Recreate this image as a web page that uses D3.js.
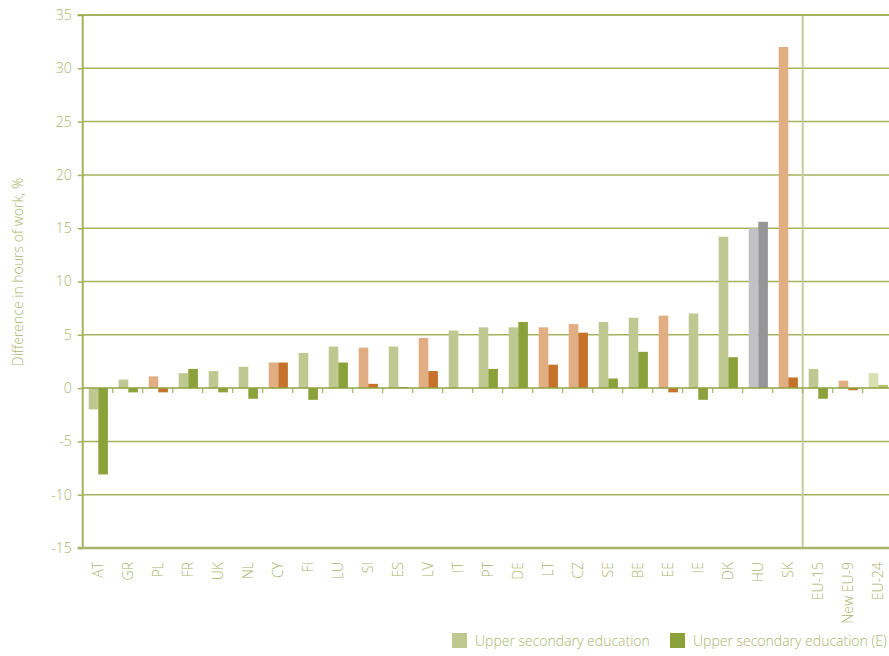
<!DOCTYPE html>
<html>
<head>
<meta charset="utf-8">
<script src="https://cdn.jsdelivr.net/npm/d3@7"></script>
<style>
  html, body { margin: 0; padding: 0; background: #fff; }
  svg { display: block; font-family: "Open Sans", "DejaVu Sans", sans-serif; }
</style>
</head>
<body>
<svg id="chart" width="889" height="656"></svg>
<script>
// ---- data ----
const categories = ["AT","GR","PL","FR","UK","NL","CY","FI","LU","SI","ES","LV","IT","PT","DE","LT","CZ","SE","BE","EE","IE","DK","HU","SK","EU-15","New EU-9","EU-24"];
const groups = ["g","g","o","g","g","g","o","g","g","o","g","o","g","g","g","o","o","g","g","o","g","g","h","o","g","o","e"];
const upperSecondary  = [-2.0,0.8,1.1,1.4,1.6,2.0,2.4,3.3,3.9,3.8,3.9,4.7,5.4,5.7,5.7,5.7,6.0,6.2,6.6,6.8,7.0,14.2,15.0,32.0,1.8,0.7,1.4];
const upperSecondaryE = [-8.1,-0.4,-0.4,1.8,-0.4,-1.0,2.4,-1.1,2.4,0.4,0.1,1.6,0.0,1.8,6.2,2.2,5.2,0.9,3.4,-0.4,-1.1,2.9,15.6,1.0,-1.0,-0.2,0.3];
const yTicks = [-15,-10,-5,0,5,10,15,20,25,30,35];
const seriesNames = ["Upper secondary education","Upper secondary education (E)"];

// ---- styles ----
const palette = {
  g: ["#c0c891", "#8ba13a"],
  o: ["#e0ae82", "#c5732b"],
  h: ["#c2c2c4", "#969698"],
  e: ["#d8dfb1", "#b6c26a"]
};
const textColor = "#a9b66c";
const gridColor = "#a3b25c";

const svg = d3.select("#chart");
const pLeft = 82.7, pRight = 892.7, pTop = 15, pBottom = 548;

const x = d3.scaleBand().domain(categories).range([pLeft, pRight]).padding(0);
const y = d3.scaleLinear().domain([-15, 35]).range([pBottom, pTop]);
const xs = d3.scaleBand().domain([0, 1]).range([x.bandwidth() * 0.2, x.bandwidth() * 0.84]);

// gridlines
svg.append("g").selectAll("line").data(yTicks.filter(t => t !== -15 && t !== 0)).join("line")
  .attr("x1", pLeft).attr("x2", pRight)
  .attr("y1", d => y(d)).attr("y2", d => y(d))
  .attr("stroke", gridColor).attr("stroke-width", 1.5);

// y axis
const yAxis = d3.axisLeft(y).tickValues(yTicks).tickSize(5).tickPadding(6).tickFormat(d3.format("d"));
const yg = svg.append("g").attr("transform", `translate(${pLeft},0)`).call(yAxis);
yg.select(".domain").remove();
yg.selectAll(".tick line").attr("stroke", gridColor).attr("stroke-width", 1.5);
yg.selectAll(".tick text").attr("fill", textColor).attr("font-size", 14).attr("font-weight", 300)
  .attr("font-family", "'Open Sans', sans-serif")
  .text(d => d < 0 ? "-" + Math.abs(d) : d);

// separator between countries and aggregates
const sepX = x("EU-15");
svg.append("line").attr("x1", sepX).attr("x2", sepX).attr("y1", pTop).attr("y2", pBottom)
  .attr("stroke", "#c5cc9c").attr("stroke-width", 2);

// bars
const barG = svg.append("g");
categories.forEach((c, i) => {
  const vals = [upperSecondary[i], upperSecondaryE[i]];
  vals.forEach((v, k) => {
    if (v === 0) return;
    barG.append("rect")
      .attr("x", x(c) + xs(k))
      .attr("width", xs.bandwidth())
      .attr("y", y(Math.max(0, v)))
      .attr("height", Math.abs(y(v) - y(0)))
      .attr("fill", palette[groups[i]][k]);
  });
});

// zero line with ticks
svg.append("line").attr("x1", pLeft).attr("x2", pRight).attr("y1", y(0)).attr("y2", y(0))
  .attr("stroke", "#8ea042").attr("stroke-width", 1.5);
svg.append("g").selectAll("line").data(categories.slice(1)).join("line")
  .attr("x1", d => x(d)).attr("x2", d => x(d))
  .attr("y1", y(0)).attr("y2", y(0) + 5)
  .attr("stroke", "#a3b25c").attr("stroke-width", 1.2);

// axis frame lines
svg.append("line").attr("x1", pLeft).attr("x2", pLeft).attr("y1", pTop).attr("y2", pBottom)
  .attr("stroke", "#a3b25c").attr("stroke-width", 2);
svg.append("line").attr("x1", pLeft - 5).attr("x2", pRight).attr("y1", pBottom).attr("y2", pBottom)
  .attr("stroke", "#a8b56a").attr("stroke-width", 2.5);
svg.append("line").attr("x1", pLeft - 5).attr("x2", pRight).attr("y1", pTop).attr("y2", pTop)
  .attr("stroke", "#9aab4c").attr("stroke-width", 1.5);

// x labels
svg.append("g").selectAll("text").data(categories).join("text")
  .attr("transform", d => `translate(${x(d) + x.bandwidth() / 2 + 4},562) rotate(-90)`)
  .attr("text-anchor", "end").attr("dy", "0.1em")
  .attr("fill", textColor).attr("font-size", 14).attr("font-weight", 300)
  .text(d => d);

// y title
svg.append("text")
  .attr("transform", "translate(23,272) rotate(-90)")
  .attr("text-anchor", "middle")
  .attr("fill", textColor).attr("font-size", 14).attr("font-weight", 300)
  .text("Difference in hours of work, %");

// legend
const legX = [452, 670];
seriesNames.forEach((n, k) => {
  svg.append("rect").attr("x", legX[k]).attr("y", 633).attr("width", 15).attr("height", 15)
    .attr("fill", palette.g[k]);
  svg.append("text").attr("x", legX[k] + 23).attr("y", 646)
    .attr("fill", textColor).attr("font-size", 14).attr("font-weight", 300)
    .text(n);
});
</script>
</body>
</html>
